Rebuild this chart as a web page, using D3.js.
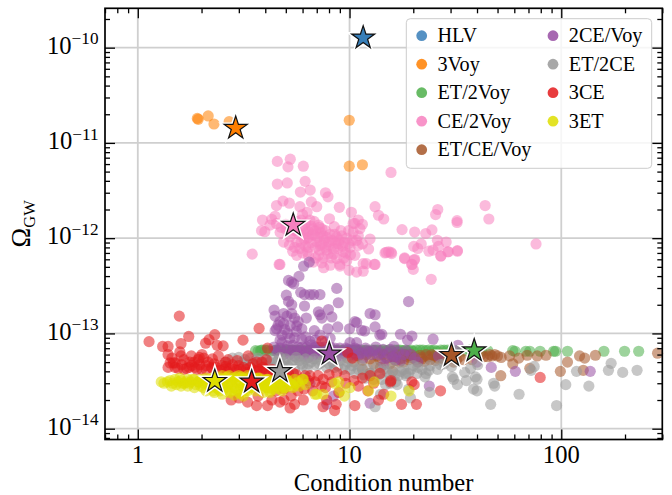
<!DOCTYPE html>
<html>
<head>
<meta charset="utf-8">
<script src="https://d3js.org/d3.v7.min.js"></script>
<style>
html, body { margin: 0; padding: 0; background: #fff; }
text { font-family: "Liberation Serif", serif; fill: #000; }
</style>
</head>
<body>
<svg id="chart" width="672" height="495"></svg>
<script>
// [condition number, omega]; omega is in units of 1e-13, except where the name says otherwise
var threeVoy_e12 = [[1.91,18.1],[1.93,17.7],[2.15,19.2],[2.29,15.8],[2.70,16.7],[9.97,17.3],[11.5,5.9],[9.97,5.7]];

var ce2voy_e12 = [[4.56,6.4],[5.25,6.75],[5.12,5.6],[6.05,5.7],[4.56,3.7],[5.08,3.8],[6.17,3.95],[5.86,3.05],[6.52,3.2],[7.7,3.0],
    [7.91,2.72],[4.52,2.2],[4.85,2.45],[5.2,2.33],[6.6,2.4],[7.0,2.14],[8.95,2.11],[5.83,2.14],[3.88,1.55],[4.29,1.58],
    [4.45,1.7],[4.52,1.42],[3.84,1.2],[3.98,1.17],[4.21,1.37],[6.0,1.77],[6.3,1.87],[8.04,1.6],[8.47,1.32],[10.2,1.87],
    [10.6,1.43],[11.0,1.55],[4.88,.91],[3.47,.68],[4.69,.53],[5.39,.73],[5.23,1.03],[5.63,.91],[6.17,1.26],[6.6,1.33],
    [7.13,1.37],[7.5,1.06],[6.87,1.06],[6.4,1.03],[7.25,.84],[7.95,.91],[8.7,1.03],[9.18,1.06],[8.85,.87],[9.7,1.0],
    [10.4,1.16],[11.0,.84],[10.05,.8],[9.35,.72],[8.4,.78],[7.8,.75],[7.13,.66],[6.75,.56],[5.83,.78],[5.63,.66],
    [6.3,.72],[8.7,.61],[9.7,.58],[10.6,.66],[9.0,.53],[4.65,.53],[7.55,.49],[9,.51],[9.95,.46],[10.8,.44],
    [11.6,.45],[12,.54],[15.7,4.9],[13.2,2.14],[13.7,1.74],[14.5,1.59],[11.5,1.4],[17.7,1.23],[20.3,1.16],[22.9,1.12],
    [24.5,1.22],[26.1,2.0],[25.5,1.77],[32.2,1.53],[32.2,1.46],[43.7,2.2],[45.5,1.59],[26,.95],[28.6,.91],[21.8,.87],
    [20.1,.82],[21,.78],[26.3,.82],[24.8,.75],[29.1,.72],[32.3,.74],[27,.65],[18.2,.62],[20.2,.59],[19.7,.53],
    [14.9,.71],[15.7,.71],[15.3,.72],[13.2,.53],[11.6,.54],[12.3,.77],[12.5,.98],[11.5,.87],[11.2,1.26],[11.0,1.06],
    [10.4,1.43],[76,.87],[13.1,.53],[14.7,.70],[15.8,.69],[18.2,.61],[19.7,.53],[20.3,.6],[20,.47],[27,.65],
    [29.3,.72],[32.3,.73],[24.3,.37],[23.7,.73],[6.0,1.3],[6.4,1.18],[6.9,1.2],[7.3,1.15],[7.7,1.2],[8.1,1.1],
    [8.3,.95],[7.6,.95],[7.0,.92],[6.6,.9],[6.1,.98],[5.8,1.1],[5.5,1.2],[5.3,1.15],[5.0,1.25],[4.75,1.3],
    [9.4,.9],[9.9,1.2],[7.2,.75],[7.9,.68],[8.8,.78],[6.9,.8],[6.2,.82],[9.1,1.2],[10.8,.95],[4.7,1.15],
    [5.0,1.4],[5.6,1.5],[5.9,1.55],[6.5,1.55],[5.7,1.15],[6.1,1.12],[6.3,1.0],[6.7,1.1],[7.1,1.02],[7.4,1.25],
    [7.8,1.02],[8.0,.85],[8.5,1.1],[8.9,.95],[9.3,.82],[9.6,.7],[8.2,.62],[7.5,.62],[6.9,.62],[6.4,.65],
    [6.0,.7],[5.5,.8],[5.2,.85],[5.9,.9],[6.4,.8],[7.4,.85],[7.7,.8],[8.6,.88],[9.9,.88],[10.3,.95],
    [10.1,.67],[9.4,.62],[8.4,.68],[7.4,.55],[8.1,.52],[6.7,1.25],[7.2,1.3],[5.4,1.35],[6.2,1.45],[6.8,1.5]];

var et2voy = [[3.6,.66],[3.7,.65],[3.8,.66],[4.0,.67],[4.2,.65],[4.4,.66],[4.6,.66],[4.9,.65],[5.2,.67],[5.5,.66],
    [5.8,.66],[6.1,.65],[6.5,.67],[6.9,.66],[7.3,.66],[7.7,.65],[8.2,.67],[8.7,.66],[9.2,.66],[9.8,.65],
    [10.4,.67],[11,.66],[11.7,.66],[12.4,.65],[13.2,.67],[14,.66],[14.9,.66],[15.8,.65],[16.8,.67],[17.8,.66],
    [19,.66],[20,.65],[21.5,.67],[23,.66],[24.5,.66],[26,.65],[28,.67],[30,.66],[32,.66],[34,.65],
    [37,.67],[40,.66],[42,.65],[45,.66],[59,.66],[60.5,.65],[68,.65],[71,.65],[79.4,.65],[92,.65],
    [94,.65],[107,.65],[159,.65],[199,.65],[232,.65],[3.85,.67],[4.1,.67],[4.5,.67],[4.75,.67],[5.05,.67],
    [5.35,.67],[5.65,.67],[5.95,.67],[6.3,.67],[6.7,.67],[7.1,.67],[7.5,.67],[7.95,.67],[8.45,.67],[8.95,.67],
    [9.5,.67],[10.1,.67],[10.7,.67],[11.3,.67],[12,.67],[12.8,.67],[13.6,.67],[14.4,.67],[15.3,.67],[16.3,.67],
    [17.3,.67],[18.4,.67],[19.5,.67],[20.7,.67],[22.2,.67],[23.7,.67],[25.2,.67],[27,.67],[29,.67]];

var etCeVoy = [[285,.62],[145,.59],[122,.58],[129,.55],[127,.41],[107,.5],[99,.4],[84.7,.59],[77,.58],[69,.59],
    [63,.55],[57,.58],[59,.48],[71,.43],[51.8,.36],[50,.58],[45,.57],[48.5,.6],[41.7,.6],[37.9,.53],
    [34.6,.53],[9.8,.55],[10.5,.5],[11,.58],[11.5,.52],[12,.6],[12.5,.54],[13,.48],[13.5,.58],[14,.52],
    [14.5,.6],[15,.55],[15.5,.48],[16,.58],[16.5,.52],[17,.6],[17.5,.55],[18,.5],[18.5,.58],[19,.53],
    [19.5,.6],[20,.56],[21,.5],[21.5,.59],[22,.54],[23,.6],[24,.53],[25,.58],[26,.55],[27,.6],
    [28,.53],[29,.56],[31,.5],[33,.57],[11.5,.42],[12.5,.38],[14,.44],[16,.4],[16.2,.56],[17.2,.5],
    [18.2,.6],[19.2,.56],[20.5,.53],[21.8,.56],[22.6,.51],[23.5,.57],[24.5,.6],[25.5,.52],[26.5,.58],[27.5,.55],
    [28.5,.59],[30,.55],[32,.53],[43,.57],[47,.58],[52,.56],[46,.6]];

var twoCeVoy = [[6.07,5.08],[6.45,5.6],[5.77,3.97],[5.15,3.6],[5.33,3.45],[5.45,3.32],[5.88,2.7],[5.03,2.52],[6.13,2.56],[6.5,2.56],
    [6.78,2.56],[7.25,2.56],[8.7,2.97],[8.85,2.1],[5.15,2.17],[5.33,2.0],[6.13,1.94],[4.4,1.76],[4.88,1.62],[5.33,1.62],
    [4.45,1.52],[5.06,1.52],[4.69,1.33],[4.88,1.27],[5.5,1.45],[5.72,1.33],[5.95,1.12],[6.25,1.45],[5.63,1.2],[7.13,1.69],
    [7.25,1.57],[7.4,1.45],[7.95,1.78],[8.25,1.49],[8.8,1.17],[7.9,1.12],[6.82,1.07],[4.45,1.07],[4.52,1.12],[4.8,.96],
    [5.23,.89],[5.95,.87],[6.5,.83],[7.25,.96],[8.1,.89],[12.5,1.62],[13.2,1.57],[10,1.12],[10.6,1.33],[10.8,1.3],
    [11.4,1.08],[11.8,1.06],[13.2,1.17],[13.9,.96],[10.05,.8],[10.8,.8],[4.4,.72],[4.6,.62],[4.8,.8],[5.0,.68],
    [5.2,.6],[5.4,.75],[5.6,.66],[5.8,.58],[6.0,.72],[6.2,.64],[6.4,.56],[6.6,.76],[6.8,.66],[7.0,.6],
    [7.2,.72],[7.5,.62],[7.8,.55],[8.1,.72],[8.4,.64],[8.7,.57],[9.0,.7],[9.4,.62],[9.8,.68],[10.2,.6],
    [10.6,.7],[11.1,.62],[11.6,.55],[12.1,.66],[12.7,.6],[13.3,.72],[14,.62],[14.8,.55],[15.6,.68],[16.5,.58],
    [17.5,.52],[18.5,.66],[19.5,.6],[21,.5],[14.2,.98],[19,2.16],[17.4,.98],[19.7,.94],[18.8,.85],[24.8,.87],
    [32.5,.75],[16.2,.73],[14.5,.47],[20.3,.55],[26.3,.58],[46.7,.44],[60.7,.4],[137,.4],[23.8,.28],[12.5,.185],
    [40,.5],[16.4,.53],[7.8,.18],[6.5,.3],[8.4,.22],[4.5,.66],[4.7,.7],[4.9,.6],[5.1,.74],[5.3,.66],
    [5.5,.58],[5.7,.72],[5.9,.66],[6.1,.58],[6.3,.72],[6.5,.66],[6.7,.58],[6.9,.72],[7.1,.66],[7.3,.6],
    [7.6,.72],[7.9,.66],[8.2,.6],[8.5,.7],[8.9,.64],[9.2,.58],[9.6,.7],[10,.64],[10.4,.58],[10.9,.68],
    [11.4,.62],[11.9,.7],[12.4,.64],[13,.66],[13.7,.6],[14.4,.68],[15.2,.62],[16,.56],[17,.64],[18,.6],
    [4.7,.85],[5.5,.9],[6.2,.92],[6.9,.85],[7.7,.82],[5.1,1.0],[5.6,1.05],[4.95,1.1],[5.25,1.2],[4.6,1.22]];

var et2ce = [[2.6,.5],[2.8,.55],[3.0,.56],[3.1,.5],[3.3,.47],[3.4,.55],[3.6,.52],[3.8,.46],[4.0,.54],[4.2,.5],
    [4.4,.44],[4.6,.52],[4.8,.46],[5.0,.54],[5.3,.47],[5.5,.42],[5.8,.52],[6.0,.46],[6.3,.42],[6.6,.5],
    [7.0,.46],[7.4,.5],[7.8,.44],[8.3,.5],[8.8,.46],[9.3,.42],[9.8,.5],[10.3,.46],[11,.42],[11.6,.37],
    [12.2,.42],[13,.33],[13.8,.37],[14.5,.42],[15.5,.36],[16.5,.31],[17.5,.4],[18.5,.36],[19.5,.42],[15.6,.3],
    [14.8,.29],[16.4,.37],[16.8,.29],[18.4,.38],[20.8,.38],[19,.26],[23.9,.24],[22.7,.35],[23.7,.41],[26.9,.47],
    [30.6,.35],[30.3,.45],[32.3,.29],[31,.33],[35,.39],[37.3,.43],[35.6,.32],[39.3,.35],[40,.33],[38.5,.26],
    [40,.25],[40.3,.47],[47.9,.3],[48.5,.28],[46.4,.18],[63.2,.23],[95,.175],[105,.29],[135,.28],[118,.4],
    [167,.41],[172,.485],[195,.39],[228,.41],[72,.41],[74.5,.45],[14,.23],[13.2,.17],[19.4,.21],[20,.46],
    [22,.42],[24,.46],[26,.42],[28,.48],[3.2,.53],[3.5,.48],[3.7,.55],[3.9,.5],[4.1,.46],[4.3,.54],
    [4.5,.5],[4.7,.56],[4.9,.5],[5.1,.46],[5.4,.52],[5.6,.56],[5.9,.48],[6.2,.54],[6.4,.48],[6.8,.54],
    [7.2,.48],[7.6,.55],[8,.48],[8.5,.44],[9,.52],[9.5,.47],[10.1,.42],[10.7,.38],[11.3,.46],[11.9,.34],
    [12.6,.38],[13.4,.44],[14.2,.33],[15,.4],[16,.44],[17,.36],[18,.42],[19,.38],[21,.44],[23,.38]];

var threeCe = [[1.57,1.52],[3.74,1.13],[1.13,.82],[1.31,.73],[1.39,.73],[1.74,.93],[2.31,.97],[2.17,.86],[2.09,.79],[2.37,.75],
    [2.53,.74],[3.14,.85],[1.6,.78],[1.39,.6],[1.58,.64],[1.6,.58],[1.79,.58],[2.01,.6],[2.4,.58],[2.67,.53],
    [1.42,.49],[1.47,.49],[1.39,.44],[1.5,.44],[1.61,.47],[1.76,.5],[1.93,.53],[1.96,.47],[1.7,.43],[1.86,.44],
    [2.23,.44],[2.44,.41],[2.72,.43],[2.93,.41],[3.27,.39],[3.64,.5],[3.32,.58],[4.05,.53],[3.64,.175],[4.1,.175],
    [2.76,.2],[5.24,.165],[4.69,.19],[6.05,.2],[4.1,.7],[7.4,.83],[9.8,.63],[10.3,.55],[8.7,.39],[9.5,.36],
    [12.5,.36],[13.9,.38],[15.6,.31],[13.7,.2],[10.6,.175],[7.5,.17],[8.5,.155],[7.8,.2],[8.65,.18],[6.87,.31],
    [7.5,.33],[6.17,.36],[5.43,.38],[8.25,.31],[7.4,.28],[11,.28],[15.7,.32],[20.2,.29],[19.7,.31],[17.6,.18],
    [20.7,.18],[26.9,.25],[79.5,.345],[3.9,.44],[4.1,.36],[4.3,.42],[4.5,.25],[4.7,.3],[4.9,.26],[5.1,.35],
    [5.3,.22],[5.5,.3],[5.7,.25],[5.9,.33],[6.1,.26],[6.4,.32],[6.7,.25],[7.1,.36],[7.7,.27],[8.0,.37],
    [8.9,.24],[9.6,.3],[10.5,.32],[11.5,.34],[12.2,.25],[13,.3],[14.5,.23],[4.3,.2],[4.9,.2],[5.5,.18],
    [3.7,.22],[3.3,.19],[3.0,.21],[1.45,.55],[1.65,.53],[1.85,.5],[2.05,.55],[2.15,.5],[2.3,.48],[2.5,.46],
    [2.6,.45],[2.8,.47],[3.0,.46],[3.15,.44],[3.4,.44],[3.55,.41],[3.75,.42],[2.1,.42],[2.0,.42],[1.5,.49],
    [1.55,.43],[1.75,.44],[1.65,.42],[1.8,.46],[1.9,.42],[2.1,.46],[2.25,.43],[2.35,.44],[2.55,.42],[2.65,.4],
    [2.85,.42],[3.05,.42],[3.25,.42],[3.45,.4],[3.65,.4],[3.85,.4],[4.0,.42],[4.2,.39],[4.45,.38],[4.65,.38],
    [4.9,.36],[5.15,.38],[5.6,.37],[6.5,.36],[1.95,.56],[2.25,.54],[2.6,.5],[2.95,.52],[3.5,.48],[3.85,.5]];

var threeEt = [[1.29,.31],[1.33,.3],[1.42,.32],[1.46,.3],[1.5,.33],[1.55,.31],[1.6,.32],[1.6,.28],[1.66,.3],[1.72,.33],
    [1.72,.28],[1.78,.31],[1.85,.33],[1.85,.27],[1.92,.31],[1.98,.33],[1.98,.28],[2.06,.3],[2.1,.34],[2.1,.25],
    [2.2,.32],[2.2,.27],[2.3,.35],[2.3,.29],[2.3,.24],[2.4,.33],[2.4,.26],[2.5,.36],[2.5,.3],[2.5,.23],
    [2.6,.34],[2.6,.27],[2.7,.36],[2.7,.3],[2.7,.24],[2.85,.34],[2.85,.27],[2.85,.225],[3,.36],[3,.3],
    [3,.24],[3.15,.34],[3.15,.27],[3.15,.22],[3.3,.36],[3.3,.3],[3.3,.25],[3.45,.34],[3.45,.27],[3.6,.31],
    [3.6,.25],[3.75,.34],[3.75,.28],[3.9,.3],[3.9,.24],[4.05,.33],[4.05,.27],[4.2,.29],[4.2,.24],[4.4,.31],
    [4.4,.26],[4.6,.33],[4.6,.28],[4.8,.3],[4.8,.25],[5,.33],[5,.27],[5.2,.3],[5.4,.27],[5.6,.3],
    [5.8,.28],[6,.33],[6.2,.29],[4.2,.25],[5.43,.28],[6.05,.33],[6.87,.23],[7.5,.23],[8.9,.31],[8.5,.3],
    [9,.25],[9.45,.22],[12.3,.25],[13.1,.31],[10.05,.27],[19.1,.25],[15.7,.22],[7,.23],
    [1.38,.31],[1.44,.28],[1.52,.29],[1.58,.34],[1.63,.3],[1.69,.31],[1.75,.3],[1.81,.33],[1.88,.29],[1.95,.31],
    [2.02,.32],[2.04,.27],[2.14,.3],[2.17,.33],[2.25,.3],[2.27,.25],[2.35,.31],[2.35,.27],[2.45,.34],[2.45,.29],
    [2.45,.25],[2.55,.32],[2.55,.27],[2.65,.35],[2.65,.29],[2.65,.25],[2.78,.33],[2.78,.29],[2.78,.25],[2.92,.35],
    [2.92,.31],[2.92,.26],[3.08,.35],[3.08,.31],[3.08,.27],[3.08,.23],[3.22,.33],[3.22,.29],[3.22,.25],[3.38,.35],
    [3.38,.31],[3.38,.27],[3.52,.34],[3.52,.29],[3.68,.34],[3.68,.28],[3.82,.32],[3.82,.26],[3.98,.32],[3.98,.28],
    [4.12,.33],[4.12,.27],[4.3,.31],[4.3,.26],[4.5,.33],[4.5,.28],[4.7,.31],[4.7,.26],[4.9,.32],[4.9,.27],
    [5.1,.32],[5.3,.29],[5.5,.33],[5.7,.31]];

var names = ['HLV', '3Voy', 'ET/2Voy', 'CE/2Voy', 'ET/CE/Voy', '2CE/Voy', 'ET/2CE', '3CE', '3ET'];
var colors = ['#377eb8', '#ff7f00', '#4daf4a', '#f781bf', '#a65628', '#984ea3', '#999999', '#e41a1c', '#dede00'];

// the starred network of each family, same order as names
var starCond = [11.6, 2.9, 38.8, 5.42, 30.3, 8.03, 4.69, 3.45, 2.31];
var starOmega = [1.27e-10, 1.43e-11, 6.6e-14, 1.37e-12, 5.9e-14, 6.1e-14, 4.0e-14, 3.1e-14, 3.15e-14];

var xMajor = [1, 10, 100];
var yMajor = [1e-10, 1e-11, 1e-12, 1e-13, 1e-14];
var yPowers = ['\u221210', '\u221211', '\u221212', '\u221213', '\u221214'];

var clouds = [
    {pts: [], unit: 1},
    {pts: threeVoy_e12, unit: 1e-12},
    {pts: et2voy, unit: 1e-13},
    {pts: ce2voy_e12, unit: 1e-12},
    {pts: etCeVoy, unit: 1e-13},
    {pts: twoCeVoy, unit: 1e-13},
    {pts: et2ce, unit: 1e-13},
    {pts: threeCe, unit: 1e-13},
    {pts: threeEt, unit: 1e-13}
];

var left = 105, right = 662.3, top_ = 8.3, bottom = 439.5;

var x = d3.scaleLog().domain([0.7, 300]).range([left, right]);
var y = d3.scaleLog().domain([7.7e-15, 2.59e-10]).range([bottom, top_]);

var svg = d3.select('#chart');

// GRID
svg.append('g').selectAll('line.gx').data(xMajor).enter().append('line')
    .attr('x1', d => x(d)).attr('x2', d => x(d))
    .attr('y1', top_).attr('y2', bottom)
    .attr('stroke', '#cfcfcf').attr('stroke-width', 1.8);
svg.append('g').selectAll('line.gy').data(yMajor).enter().append('line')
    .attr('x1', left).attr('x2', right)
    .attr('y1', d => y(d)).attr('y2', d => y(d))
    .attr('stroke', '#cfcfcf').attr('stroke-width', 1.8);

// CLOUDS
clouds.forEach((cloud, i) => {
    svg.append('g').selectAll('circle').data(cloud.pts).enter().append('circle')
        .attr('cx', d => x(d[0]))
        .attr('cy', d => y(d[1] * cloud.unit))
        .attr('r', 5.6)
        .attr('fill', colors[i])
        .attr('fill-opacity', 0.55);
});

// STARS
var star = d3.symbol().type(d3.symbolStar).size(165);
names.forEach((name, i) => {
    var g = svg.append('g')
        .attr('transform', 'translate(' + x(starCond[i]) + ',' + y(starOmega[i]) + ')');
    g.append('path').attr('d', star)
        .attr('fill', 'none').attr('stroke', '#fff').attr('stroke-width', 4)
        .attr('stroke-linejoin', 'miter');
    g.append('path').attr('d', star)
        .attr('fill', colors[i]).attr('stroke', '#111').attr('stroke-width', 1.2);
});

// AXES, ticks point inward on all four sides
function logMinors(lo, hi) {
    var out = [];
    for (var p = lo; p <= hi; p++) {
        for (var m = 2; m < 10; m++) out.push(m * Math.pow(10, p));
    }
    return out;
}
var xMinor = logMinors(-1, 2).filter(d => d >= 0.7 && d <= 300);
var yMinor = logMinors(-15, -10).filter(d => d >= 7.7e-15 && d <= 2.59e-10);

function ticks(axisFn, scale, translate, values, len) {
    var g = svg.append('g')
        .attr('transform', translate)
        .call(axisFn(scale).tickValues(values).tickSize(-len).tickSizeOuter(0).tickFormat(''));
    g.select('.domain').remove();
    g.selectAll('line').attr('stroke', '#000').attr('stroke-width', 1.3);
    return g;
}

var bottomT = 'translate(0,' + bottom + ')', topT = 'translate(0,' + top_ + ')';
var leftT = 'translate(' + left + ',0)', rightT = 'translate(' + right + ',0)';

ticks(d3.axisBottom, x, bottomT, xMajor, 10);
ticks(d3.axisBottom, x, bottomT, xMinor, 5);
ticks(d3.axisTop, x, topT, xMajor, 10);
ticks(d3.axisTop, x, topT, xMinor, 5);
ticks(d3.axisLeft, y, leftT, yMajor, 10);
ticks(d3.axisLeft, y, leftT, yMinor, 5);
ticks(d3.axisRight, y, rightT, yMajor, 10);
ticks(d3.axisRight, y, rightT, yMinor, 5);

svg.append('rect')
    .attr('x', left).attr('y', top_)
    .attr('width', right - left).attr('height', bottom - top_)
    .attr('fill', 'none').attr('stroke', '#000').attr('stroke-width', 1.7);

// TICK LABELS
svg.append('g').selectAll('text').data(xMajor).enter().append('text')
    .attr('x', d => x(d))
    .attr('y', 463)
    .attr('text-anchor', 'middle')
    .style('font-size', '24.6px')
    .text(d => d);

var yLabels = svg.append('g').selectAll('text').data(yMajor).enter().append('text')
    .attr('x', 98.5)
    .attr('y', d => y(d) + 6.3)
    .attr('text-anchor', 'end')
    .style('font-size', '24.6px');
yLabels.append('tspan').text('10');
yLabels.append('tspan')
    .attr('dy', -9.5)
    .style('font-size', '17.2px')
    .text((d, i) => yPowers[i]);

// AXIS LABELS
svg.append('text')
    .attr('x', (left + right) / 2)
    .attr('y', 491)
    .attr('text-anchor', 'middle')
    .style('font-size', '24.6px')
    .text('Condition number');

var yTitle = svg.append('text')
    .attr('transform', 'translate(29.5,' + (bottom + top_) / 2 + ') rotate(-90)')
    .attr('text-anchor', 'middle')
    .style('font-size', '26.5px');
yTitle.append('tspan').text('\u03a9');
yTitle.append('tspan').attr('dy', 5).style('font-size', '16.5px').text('GW');

// LEGEND
svg.append('rect')
    .attr('x', 406.3).attr('y', 18.7)
    .attr('width', 245.4).attr('height', 149.6)
    .attr('rx', 4).attr('ry', 4)
    .attr('fill', '#fff').attr('fill-opacity', 0.8)
    .attr('stroke', '#cccccc').attr('stroke-width', 1);

var rowY = d3.scalePoint().domain(d3.range(5)).range([35.7, 149.7]);
var columnX = [421.7, 553];

var items = svg.append('g').selectAll('g').data(names).enter().append('g')
    .attr('transform', (d, i) => 'translate(' + columnX[i < 5 ? 0 : 1] + ',' + rowY(i < 5 ? i : i - 5) + ')');
items.append('circle')
    .attr('r', 5.4)
    .attr('fill', (d, i) => colors[i])
    .attr('fill-opacity', 0.85);
items.append('text')
    .attr('x', 15.8)
    .attr('y', 6.4)
    .style('font-size', '20.2px')
    .text(d => d);
</script>
</body>
</html>
